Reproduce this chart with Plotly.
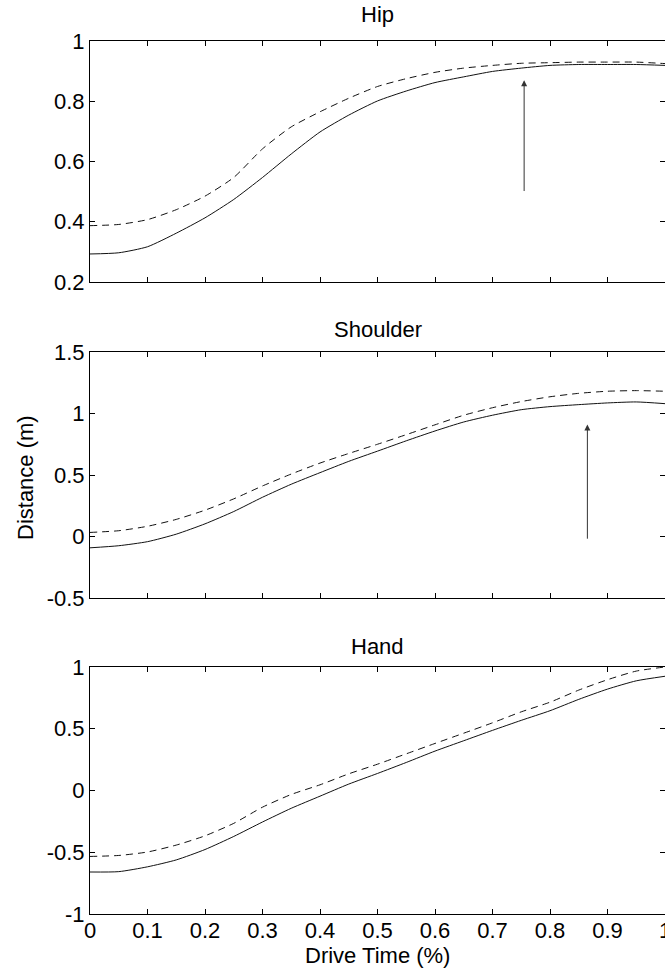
import plotly.graph_objects as go

# ---- data ----
drive_time = [0.0, 0.05, 0.1, 0.15, 0.2, 0.25, 0.3, 0.35, 0.4, 0.45, 0.5,
              0.55, 0.6, 0.65, 0.7, 0.75, 0.8, 0.85, 0.9, 0.95, 1.0]

hip_solid = [0.293, 0.297, 0.317, 0.362, 0.413, 0.474, 0.547, 0.625, 0.698, 0.754, 0.801,
             0.834, 0.862, 0.881, 0.899, 0.910, 0.919, 0.922, 0.922, 0.922, 0.919]
hip_dashed = [0.387, 0.391, 0.407, 0.440, 0.485, 0.547, 0.642, 0.715, 0.765, 0.810, 0.849,
              0.875, 0.896, 0.910, 0.919, 0.926, 0.928, 0.930, 0.930, 0.930, 0.925]

shoulder_solid = [-0.092, -0.075, -0.042, 0.019, 0.103, 0.203, 0.319, 0.425, 0.519, 0.611, 0.694,
                  0.778, 0.858, 0.931, 0.986, 1.031, 1.056, 1.072, 1.086, 1.094, 1.080]
shoulder_dashed = [0.033, 0.047, 0.083, 0.139, 0.214, 0.306, 0.411, 0.508, 0.597, 0.675, 0.750,
                   0.828, 0.908, 0.986, 1.047, 1.097, 1.136, 1.164, 1.181, 1.186, 1.181]

hand_solid = [-0.660, -0.657, -0.618, -0.562, -0.478, -0.372, -0.255, -0.144, -0.046, 0.052, 0.138,
              0.227, 0.319, 0.403, 0.487, 0.568, 0.646, 0.738, 0.821, 0.888, 0.925]
hand_dashed = [-0.534, -0.526, -0.498, -0.442, -0.367, -0.266, -0.135, -0.032, 0.046, 0.135, 0.213,
               0.297, 0.381, 0.464, 0.548, 0.637, 0.715, 0.813, 0.897, 0.967, 1.000]

x_ticks = [0, 0.1, 0.2, 0.3, 0.4, 0.5, 0.6, 0.7, 0.8, 0.9, 1]
x_tick_text = ["0", "0.1", "0.2", "0.3", "0.4", "0.5", "0.6", "0.7", "0.8", "0.9", "1"]

hip_ticks = [0.2, 0.4, 0.6, 0.8, 1.0]
hip_tick_text = ["0.2", "0.4", "0.6", "0.8", "1"]
shoulder_ticks = [-0.5, 0, 0.5, 1, 1.5]
shoulder_tick_text = ["-0.5", "0", "0.5", "1", "1.5"]
hand_ticks = [-1, -0.5, 0, 0.5, 1]
hand_tick_text = ["-1", "-0.5", "0", "0.5", "1"]

titles = ["Hip", "Shoulder", "Hand"]
x_label = "Drive Time (%)"
y_label = "Distance (m)"

# arrows: (x, y_tail, y_head)
hip_arrow = (0.755, 0.497, 0.87)
shoulder_arrow = (0.865, -0.03, 0.91)

# ---- figure ----
FONT = "Liberation Sans, Arial, sans-serif"
FS_TICK = 22
FS_TEXT = 22
W, H = 665, 972

fig = go.Figure()
series = [(hip_solid, hip_dashed), (shoulder_solid, shoulder_dashed), (hand_solid, hand_dashed)]
for i, (s, d) in enumerate(series):
    xa = "x" if i == 0 else f"x{i+1}"
    ya = "y" if i == 0 else f"y{i+1}"
    fig.add_trace(go.Scatter(x=drive_time, y=s, mode="lines", xaxis=xa, yaxis=ya,
                             line=dict(color="#111111", width=1, shape="spline", smoothing=0.6),
                             showlegend=False))
    fig.add_trace(go.Scatter(x=drive_time, y=d, mode="lines", xaxis=xa, yaxis=ya,
                             line=dict(color="#111111", width=1, dash="7px,5px", shape="spline", smoothing=0.6),
                             showlegend=False))

def px_dom(top, bottom):
    return [1 - bottom / H, 1 - top / H]

domains = [px_dom(41, 282), px_dom(352, 598), px_dom(667, 914)]
yranges = [[0.2, 1.0], [-0.5, 1.5], [-1, 1]]
yticks = [(hip_ticks, hip_tick_text), (shoulder_ticks, shoulder_tick_text), (hand_ticks, hand_tick_text)]

axis_common = dict(showline=True, linecolor="black", linewidth=1, mirror="ticks",
                   ticks="inside", ticklen=5, tickcolor="black", tickwidth=1,
                   showgrid=False, zeroline=False, automargin=False,
                   tickfont=dict(family=FONT, size=FS_TICK, color="black"))

layout = dict(width=W, height=H, margin=dict(l=90, r=0, t=0, b=0, autoexpand=False),
              paper_bgcolor="white", plot_bgcolor="white", showlegend=False,
              font=dict(family=FONT, size=FS_TICK, color="black"))

for i in range(3):
    xk = "xaxis" if i == 0 else f"xaxis{i+1}"
    yk = "yaxis" if i == 0 else f"yaxis{i+1}"
    ya = "y" if i == 0 else f"y{i+1}"
    xa = "x" if i == 0 else f"x{i+1}"
    layout[xk] = dict(axis_common, domain=[0, 1], anchor=ya, range=[0, 1],
                      tickvals=x_ticks, ticktext=x_tick_text,
                      showticklabels=(i == 2), ticklabeloverflow="allow",
                      ticklabelstandoff=-3)
    layout[yk] = dict(axis_common, domain=domains[i], anchor=xa, range=yranges[i],
                      tickvals=yticks[i][0], ticktext=yticks[i][1])

fig.update_layout(**layout)

title_y_px = [15, 330, 646]
for t, ypx in zip(titles, title_y_px):
    fig.add_annotation(text=t, xref="paper", yref="paper", x=0.5, y=1 - ypx / H,
                       xanchor="center", yanchor="middle", showarrow=False,
                       font=dict(family=FONT, size=FS_TEXT, color="black"))

fig.add_annotation(text=x_label, xref="paper", yref="paper", x=0.5, y=1 - 955 / H,
                   xanchor="center", yanchor="middle", showarrow=False,
                   font=dict(family=FONT, size=FS_TEXT, color="black"))
fig.add_annotation(text=y_label, xref="paper", yref="paper", x=(25 - 90) / 575, y=1 - 478 / H,
                   xanchor="center", yanchor="middle", showarrow=False, textangle=-90,
                   font=dict(family=FONT, size=FS_TEXT, color="black"))

for (ax_x, ytail, yhead), xr, yr in [(hip_arrow, "x", "y"), (shoulder_arrow, "x2", "y2")]:
    fig.add_annotation(x=ax_x, y=yhead, ax=ax_x, ay=ytail, xref=xr, yref=yr,
                       axref=xr, ayref=yr, text="", showarrow=True,
                       arrowhead=2, arrowsize=1.2, arrowwidth=1, arrowcolor="#333333")

fig.write_html("out.html",
               post_script="document.body.style.margin='0';document.body.style.padding='0';"
                           "document.documentElement.style.overflow='hidden';")
